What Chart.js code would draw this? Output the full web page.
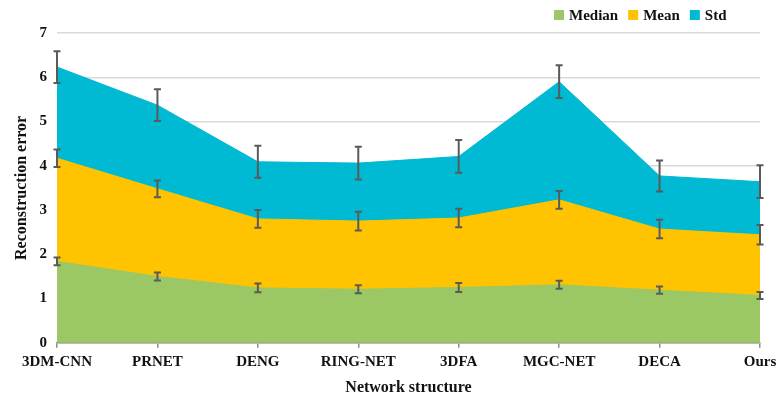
<!DOCTYPE html>
<html>
<head>
<meta charset="utf-8">
<style>
  html, body { margin: 0; padding: 0; background: #ffffff; }
  #wrap { width: 777px; height: 401px; }
</style>
<script src="https://cdn.jsdelivr.net/npm/chart.js@4/dist/chart.umd.min.js"></script>
</head>
<body>
<div id="wrap"><canvas id="c" width="777" height="401"></canvas></div>
<script>
// Network structures compared
const categories = ['3DM-CNN', 'PRNET', 'DENG', 'RING-NET', '3DFA', 'MGC-NET', 'DECA', 'Ours'];

// Reconstruction error per network
const medianValues = [1.84, 1.50, 1.24, 1.21, 1.25, 1.31, 1.19, 1.07];
const meanValues   = [4.17, 3.48, 2.80, 2.75, 2.82, 3.23, 2.57, 2.44];
const stdValues    = [6.23, 5.37, 4.09, 4.06, 4.21, 5.90, 3.77, 3.64];

// Error bar half-lengths
const medianErr = [0.09, 0.09, 0.10, 0.09, 0.10, 0.09, 0.08, 0.08];
const meanErr   = [0.20, 0.19, 0.20, 0.21, 0.21, 0.20, 0.21, 0.22];
const stdErr    = [0.36, 0.36, 0.36, 0.37, 0.37, 0.37, 0.35, 0.37];

const yTicks = [0, 1, 2, 3, 4, 5, 6, 7];

const FONT = "'Liberation Serif', 'Times New Roman', serif";
const GREEN = '#9BC864';
const YELLOW = '#FFC300';
const BLUE = '#00B9D3';

const errors = [medianErr, meanErr, stdErr];

// Vertical error bars with caps, drawn over the areas
const errorBars = {
  id: 'errorBars',
  afterDatasetsDraw(chart) {
    const ctx = chart.ctx;
    const y = chart.scales.y;
    ctx.save();
    ctx.strokeStyle = '#5a5a5a';
    ctx.lineWidth = 2;
    chart.data.datasets.forEach((ds, di) => {
      const meta = chart.getDatasetMeta(di);
      meta.data.forEach((pt, i) => {
        const v = ds.data[i];
        const e = errors[di][i];
        const x = pt.x;
        const yTop = y.getPixelForValue(v + e);
        const yBot = y.getPixelForValue(v - e);
        ctx.beginPath();
        ctx.moveTo(x, yTop); ctx.lineTo(x, yBot);
        ctx.moveTo(x - 3.5, yTop); ctx.lineTo(x + 3.5, yTop);
        ctx.moveTo(x - 3.5, yBot); ctx.lineTo(x + 3.5, yBot);
        ctx.stroke();
      });
    });
    ctx.restore();
  }
};

// Legend row at the top right
const topLegend = {
  id: 'topLegend',
  afterDraw(chart) {
    const ctx = chart.ctx;
    ctx.save();
    ctx.font = 'bold 15px ' + FONT;
    ctx.textBaseline = 'middle';
    let x = 554;
    const yc = 15;
    chart.data.datasets.forEach(ds => {
      ctx.fillStyle = ds.backgroundColor;
      ctx.fillRect(x, yc - 5, 10, 10);
      x += 15;
      ctx.fillStyle = '#111111';
      ctx.fillText(ds.label, x, yc + 1);
      x += ctx.measureText(ds.label).width + 10;
    });
    ctx.restore();
  }
};

function areaSet(label, data, color) {
  return {
    label: label,
    data: data,
    backgroundColor: color,
    borderColor: color,
    borderWidth: 1,
    fill: 'origin',
    tension: 0,
    pointRadius: 0,
    pointHoverRadius: 0
  };
}

new Chart(document.getElementById('c'), {
  type: 'line',
  data: {
    labels: categories,
    datasets: [
      areaSet('Median', medianValues, GREEN),
      areaSet('Mean', meanValues, YELLOW),
      areaSet('Std', stdValues, BLUE)
    ]
  },
  options: {
    responsive: false,
    animation: false,
    layout: { padding: { top: 33, right: 17, bottom: 0, left: 0 } },
    plugins: {
      legend: { display: false },
      tooltip: { enabled: false }
    },
    scales: {
      x: {
        offset: false,
        afterFit(scale) { scale.paddingRight = 0; scale.paddingLeft = 0; },
        grid: {
          display: true,
          drawOnChartArea: false,
          drawTicks: true,
          tickLength: 5,
          color: '#8c8c8c',
          lineWidth: 1.5
        },
        border: { display: true, color: '#8c8c8c', width: 1.5 },
        ticks: {
          color: '#111111',
          font: { family: FONT, size: 15, weight: 'bold' },
          padding: 5,
          maxRotation: 0,
          autoSkip: false
        },
        title: {
          display: true,
          text: 'Network structure',
          color: '#111111',
          font: { family: FONT, size: 16, weight: 'bold' },
          padding: { top: 2, bottom: 4 }
        }
      },
      y: {
        min: 0,
        max: 7,
        afterFit(scale) { scale.width = 57; },
        afterBuildTicks(scale) { scale.ticks = yTicks.map(v => ({ value: v })); },
        grid: {
          color: '#d9d9d9',
          lineWidth: 1.5,
          drawTicks: false
        },
        border: { display: false },
        ticks: {
          color: '#111111',
          font: { family: FONT, size: 15, weight: 'bold' },
          padding: 10
        },
        title: {
          display: true,
          text: 'Reconstruction error',
          color: '#111111',
          font: { family: FONT, size: 16, weight: 'bold' },
          padding: { top: 12, bottom: 0 }
        }
      }
    }
  },
  plugins: [errorBars, topLegend]
});
</script>
</body>
</html>
